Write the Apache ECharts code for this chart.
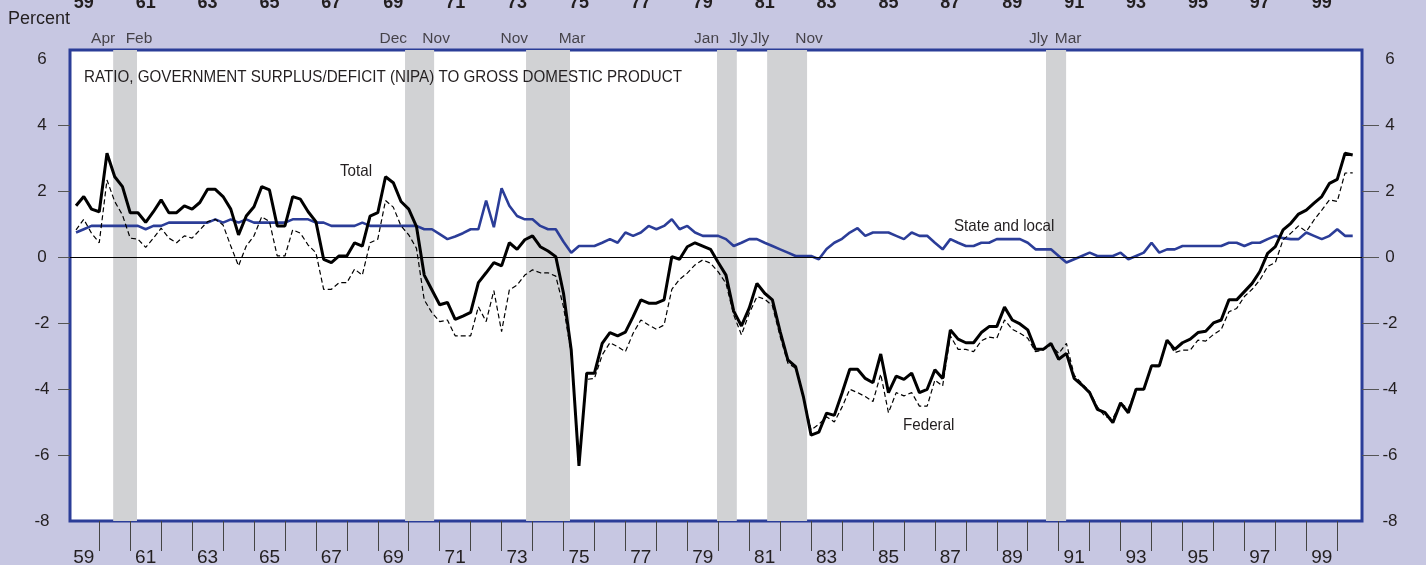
<!DOCTYPE html>
<html><head><meta charset="utf-8">
<script src="https://cdn.jsdelivr.net/npm/echarts@6/dist/echarts.min.js"></script>
<style>html,body{margin:0;padding:0;background:#c7c7e2;}#c{width:1426px;height:565px;}</style>
</head><body><div id="c"></div>
<script>
// Quarterly data, 1959Q1 .. 2000Q2 (percent of GDP)
const firstYear = 1959;
const total = [
 1.55,1.83,1.45,1.37,3.14,2.43,2.13,1.34,1.34,1.05,
 1.37,1.73,1.34,1.34,1.55,1.45,1.65,2.05,2.05,1.83,
 1.45,0.67,1.24,1.52,2.13,2.03,0.94,0.94,1.83,1.75,
 1.37,1.07,-0.07,-0.17,0.03,0.03,0.43,0.33,1.24,1.34,
 2.43,2.25,1.68,1.45,0.92,-0.55,-1.0,-1.45,-1.38,-1.89,
 -1.79,-1.68,-0.78,-0.48,-0.17,-0.27,0.43,0.23,0.52,0.64,
 0.31,0.18,0.01,-1.1,-2.82,-6.33,-3.52,-3.52,-2.62,-2.29,
 -2.39,-2.28,-1.81,-1.30,-1.40,-1.40,-1.30,0.01,-0.07,0.31,
 0.43,0.33,0.23,-0.17,-0.55,-1.64,-2.09,-1.55,-0.80,-1.10,
 -1.30,-2.26,-3.12,-3.32,-4.23,-5.40,-5.31,-4.73,-4.80,-4.12,
 -3.40,-3.40,-3.68,-3.81,-2.94,-4.11,-3.61,-3.71,-3.52,-4.11,
 -4.01,-3.42,-3.68,-2.21,-2.49,-2.60,-2.60,-2.29,-2.11,-2.11,
 -1.52,-1.91,-2.03,-2.21,-2.80,-2.80,-2.62,-3.10,-2.92,-3.68,
 -3.88,-4.11,-4.62,-4.72,-5.02,-4.42,-4.72,-4.01,-4.01,-3.30,
 -3.30,-2.52,-2.80,-2.60,-2.49,-2.29,-2.25,-2.0,-1.91,-1.30,
 -1.30,-1.05,-0.80,-0.44,0.11,0.31,0.82,1.02,1.30,1.42,
 1.63,1.83,2.23,2.35,3.14,3.09
];
const federal = [
 0.82,1.14,0.72,0.43,2.33,1.68,1.27,0.57,0.54,0.29,
 0.57,0.87,0.57,0.43,0.64,0.57,0.82,1.07,1.14,0.97,
 0.33,-0.27,0.33,0.64,1.22,1.07,0.03,0.03,0.82,0.72,
 0.36,0.13,-0.98,-0.98,-0.78,-0.78,-0.37,-0.55,0.43,0.54,
 1.71,1.51,0.94,0.67,0.26,-1.30,-1.69,-1.96,-1.91,-2.39,
 -2.39,-2.39,-1.51,-1.96,-1.02,-2.26,-1.0,-0.85,-0.55,-0.39,
 -0.48,-0.48,-0.58,-1.51,-2.92,-6.15,-3.71,-3.68,-2.97,-2.60,
 -2.72,-2.87,-2.31,-1.91,-2.06,-2.19,-2.06,-0.98,-0.68,-0.49,
 -0.24,-0.09,-0.19,-0.45,-0.80,-1.76,-2.36,-1.71,-1.20,-1.28,
 -1.48,-2.41,-3.22,-3.37,-4.23,-5.24,-5.07,-4.84,-5.0,-4.55,
 -4.01,-4.11,-4.23,-4.38,-3.55,-4.72,-4.11,-4.21,-4.11,-4.52,
 -4.52,-3.73,-3.91,-2.39,-2.80,-2.80,-2.87,-2.54,-2.43,-2.46,
 -1.91,-2.19,-2.31,-2.46,-2.87,-2.82,-2.67,-2.92,-2.62,-3.58,
 -3.83,-4.08,-4.54,-4.84,-4.89,-4.44,-4.59,-4.01,-4.01,-3.32,
 -3.32,-2.52,-2.90,-2.82,-2.82,-2.52,-2.55,-2.35,-2.2,-1.66,
 -1.56,-1.20,-0.98,-0.70,-0.29,-0.17,0.52,0.72,0.94,0.77,
 1.12,1.42,1.73,1.68,2.54,2.55
];
const stateLocal = [
 0.74,0.84,0.94,0.94,0.94,0.94,0.94,0.94,0.94,0.84,
 0.94,0.94,1.04,1.04,1.04,1.04,1.04,1.04,1.14,1.04,
 1.14,1.04,1.14,1.04,1.04,1.04,1.04,1.04,1.14,1.14,
 1.14,1.04,1.04,0.94,0.94,0.94,0.94,1.04,0.94,0.94,
 0.94,0.94,0.94,0.94,0.94,0.84,0.84,0.69,0.54,0.62,
 0.72,0.84,0.84,1.71,0.90,2.08,1.55,1.24,1.14,1.14,
 0.94,0.84,0.84,0.46,0.13,0.33,0.33,0.33,0.43,0.54,
 0.43,0.74,0.64,0.74,0.94,0.84,0.94,1.14,0.84,0.94,
 0.74,0.64,0.64,0.64,0.54,0.33,0.43,0.54,0.54,0.43,
 0.33,0.23,0.13,0.03,0.03,0.03,-0.07,0.24,0.43,0.55,
 0.74,0.87,0.64,0.74,0.74,0.74,0.64,0.54,0.74,0.64,
 0.64,0.43,0.23,0.54,0.43,0.33,0.33,0.43,0.43,0.54,
 0.54,0.54,0.54,0.43,0.23,0.23,0.23,0.03,-0.17,-0.07,
 0.03,0.13,0.03,0.03,0.03,0.13,-0.07,0.03,0.13,0.43,
 0.13,0.23,0.23,0.33,0.33,0.33,0.33,0.33,0.33,0.43,
 0.43,0.33,0.43,0.43,0.54,0.64,0.57,0.54,0.54,0.74,
 0.64,0.54,0.64,0.84,0.64,0.64
];
// Recession shading (decimal years as drawn) and their month labels
const recessions = [
 [1960.45, 1961.22, 'Apr', 'Feb'],
 [1969.88, 1970.82, 'Dec', 'Nov'],
 [1973.79, 1975.21, 'Nov', 'Mar'],
 [1979.96, 1980.60, 'Jan', 'Jly'],
 [1981.58, 1982.87, 'Jly', 'Nov'],
 [1990.59, 1991.24, 'Jly', 'Mar']
];
const yTicks = [-8,-6,-4,-2,0,2,4,6];
const yTickMarks = [-6,-4,-2,0,2,4];
const yearTicks = []; for (let y = 1960; y <= 2000; y++) yearTicks.push(y);
const yearLabels = []; for (let y = 1959; y <= 1999; y += 2) yearLabels.push(y + 0.5);

const qTime = total.map((_, i) => firstYear + 0.25 + i / 4);
const pairs = arr => arr.map((v, i) => [qTime[i], v]);

const BLUE = '#2b3d98';
const TXT = '#231f20';
const XMIN = 1959.055, XMAX = 2000.80;

const monthLabelData = [];
recessions.forEach(r => {
  monthLabelData.push({value: [r[0], 6.62], label: {formatter: r[2], align: 'right', offset: [2, 0]}});
  monthLabelData.push({value: [r[1], 6.62], label: {formatter: r[3], align: 'center', offset: [2, 0]}});
});

const chart = echarts.init(document.getElementById('c'), null, {renderer: 'canvas'});
const fam = '"Liberation Sans", Arial, sans-serif';
const narrow = '"Liberation Sans Narrow", "Liberation Sans", Arial, sans-serif';
const condensedText = (x, y, text) => ({type: 'text', x: x, y: y, z: 100, scaleX: 0.92,
  style: {text: text, font: '16.5px ' + narrow, fill: TXT, textVerticalAlign: 'middle'}});
chart.setOption({
  backgroundColor: '#c7c7e2',
  animation: false,
  grid: {left: 70, top: 50, width: 1292, height: 471, outerBoundsMode: 'none', containLabel: false,
         show: true, backgroundColor: '#ffffff', borderColor: BLUE, borderWidth: 3},
  xAxis: [
    {type: 'value', min: XMIN, max: XMAX, position: 'bottom',
     axisLine: {show: false, onZero: false}, splitLine: {show: false},
     axisTick: {show: true, customValues: yearTicks, length: 30, lineStyle: {color: '#444', width: 1}},
     axisLabel: {show: true, customValues: yearLabels, margin: 27, fontFamily: narrow, fontSize: 19, color: TXT,
       formatter: v => String(Math.floor(v) % 100)}},
    {type: 'value', min: XMIN, max: XMAX, position: 'top',
     axisLine: {show: false, onZero: false}, splitLine: {show: false}, axisTick: {show: false},
     axisLabel: {show: true, customValues: yearLabels, margin: 38, fontFamily: fam, fontWeight: 'bold', fontSize: 18, color: TXT,
       formatter: v => String(Math.floor(v) % 100)}}
  ],
  yAxis: [
    {type: 'value', min: -8, max: 6.27, interval: 2, position: 'left',
     axisLine: {show: false, onZero: false}, splitLine: {show: false},
     axisTick: {show: true, customValues: yTickMarks, length: 12, lineStyle: {color: '#555'}},
     axisLabel: {customValues: yTicks, margin: 28, align: 'center', fontFamily: fam, fontSize: 17, color: TXT}},
    {type: 'value', min: -8, max: 6.27, interval: 2, position: 'right',
     axisLine: {show: false, onZero: false}, splitLine: {show: false},
     axisTick: {show: true, customValues: yTickMarks, length: 17, lineStyle: {color: '#555'}},
     axisLabel: {customValues: yTicks, margin: 28, align: 'center', fontFamily: fam, fontSize: 17, color: TXT}}
  ],
  series: [
    {type: 'line', data: [], z: 1, silent: true,
     markArea: {silent: true, itemStyle: {color: '#d1d2d4'},
       data: recessions.map(r => [{xAxis: r[0]}, {xAxis: r[1]}])},
     markLine: {silent: true, symbol: 'none', label: {show: false},
       lineStyle: {color: '#000', width: 1, type: 'solid'}, data: [{yAxis: 0}]}},
    {name: 'State and local', type: 'line', data: pairs(stateLocal), symbol: 'none', z: 3,
     lineStyle: {color: BLUE, width: 2.6}},
    {name: 'Federal', type: 'line', data: pairs(federal), symbol: 'none', z: 4,
     lineStyle: {color: '#000', width: 1.2, type: [5, 3]}},
    {name: 'Total', type: 'line', data: pairs(total), symbol: 'none', z: 5,
     lineStyle: {color: '#000', width: 3}},
    {type: 'scatter', data: monthLabelData, symbolSize: 0, clip: false, silent: true,
     label: {show: true, position: 'inside', fontFamily: narrow, fontSize: 15.5, color: TXT}}
  ],
  graphic: [
    {type: 'text', left: 8, top: 10, z: 100, style: {text: 'Percent', font: '18px ' + fam, fill: TXT}},
    condensedText(84, 77, 'RATIO, GOVERNMENT SURPLUS/DEFICIT (NIPA) TO GROSS DOMESTIC PRODUCT'),
    condensedText(340, 171, 'Total'),
    condensedText(954, 226, 'State and local'),
    condensedText(903, 425, 'Federal')
  ]
});
</script></body></html>
